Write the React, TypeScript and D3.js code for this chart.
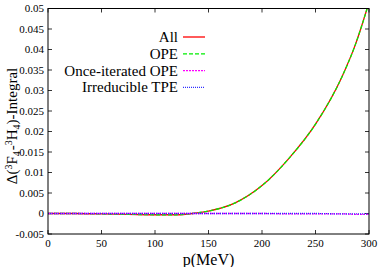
import React from 'react';
import { scaleLinear, line, curveMonotoneX, range } from 'd3';

const P_VALUES = [0, 25, 50, 75, 100, 120, 135, 150, 175, 200, 225, 250, 275, 287, 300];
const ALL = [0, 0, -0.0001, -0.0002, -0.0003, -0.0003, 0, 0.0006, 0.0026, 0.0068, 0.0134, 0.0218, 0.0335, 0.041, 0.0515];
const OPE = [0, 0, -0.0001, -0.0002, -0.0003, -0.0003, 0, 0.0006, 0.0026, 0.0068, 0.0134, 0.0218, 0.0335, 0.041, 0.0515];
const ONCE_ITERATED = [0, 0, 0, 0, 0, 0, 0, 0, 0, 0, -0.0001, -0.0001, -0.0001, -0.0002, -0.0002];
const IRREDUCIBLE = [0, 0, 0, 0, 0, 0, 0, 0, 0, 0, 0, 0, -0.0001, -0.0001, -0.0001];

const SERIES = [
  { label: 'All', values: ALL, color: '#ff0000', dash: null },
  { label: 'OPE', values: OPE, color: '#00ee00', dash: '4,2' },
  { label: 'Once-iterated OPE', values: ONCE_ITERATED, color: '#ff00ff', dash: '2,1' },
  { label: 'Irreducible TPE', values: IRREDUCIBLE, color: '#3030ff', dash: '1,1' },
];

const X_TICKS = [0, 50, 100, 150, 200, 250, 300];
const Y_TICKS = range(0, 12).map(i => -0.005 + i * 0.005);

const width = 382;
const height = 267;
const left = 48;
const right = 369;
const top = 8.5;
const bottom = 234;

const yFmt = (v: number) => {
  if (Math.abs(v) < 1e-9) return '0';
  return String(parseFloat(v.toFixed(3)));
};

export default function App() {
  const x = scaleLinear().domain([0, 300]).range([left, right]);
  const y = scaleLinear().domain([-0.005, 0.05]).range([bottom, top]);
  const font = 'Times New Roman, Liberation Serif, DejaVu Serif, serif';

  const lineGen = (vals: number[]) =>
    line<number>()
      .x((_, i) => x(P_VALUES[i]))
      .y(d => y(d))
      .curve(curveMonotoneX)(vals) || '';

  return (
    <svg width={width} height={height} style={{ position: 'absolute', left: 0, top: 0, background: '#fff' }}>
      <defs>
        <clipPath id="plot-clip">
          <rect x={left} y={top} width={right - left} height={bottom - top} />
        </clipPath>
      </defs>
      <rect x={0} y={0} width={width} height={height} fill="#fff" />

      {/* ticks, mirrored on all sides */}
      {X_TICKS.map(t => (
        <g key={'xt' + t}>
          <line x1={x(t)} x2={x(t)} y1={bottom} y2={bottom - 4} stroke="#000" strokeWidth={0.8} />
          <line x1={x(t)} x2={x(t)} y1={top} y2={top + 4} stroke="#000" strokeWidth={0.8} />
          <text x={x(t)} y={247} textAnchor="middle" fontSize={11} fontFamily={font}>{t}</text>
        </g>
      ))}
      {Y_TICKS.map((t, i) => (
        <g key={'yt' + i}>
          <line x1={left} x2={left + 4} y1={y(t)} y2={y(t)} stroke="#000" strokeWidth={0.8} />
          <line x1={right} x2={right - 4} y1={y(t)} y2={y(t)} stroke="#000" strokeWidth={0.8} />
          <text x={44} y={y(t) + 3.5} textAnchor="end" fontSize={11} fontFamily={font}>{yFmt(t)}</text>
        </g>
      ))}

      <g clipPath="url(#plot-clip)">
        {SERIES.map(s => (
          <path key={s.label} d={lineGen(s.values)} fill="none" stroke={s.color} strokeWidth={1.3}
            strokeDasharray={s.dash || undefined} />
        ))}
      </g>

      <rect x={left} y={top} width={right - left} height={bottom - top} fill="none" stroke="#000" strokeWidth={1} />

      {/* legend */}
      {SERIES.map((s, i) => {
        const ly = 37 + i * 16.8;
        return (
          <g key={'lg' + s.label}>
            <text x={178} y={ly + 5} textAnchor="end" fontSize={15} fontFamily={font}>{s.label}</text>
            <line x1={183} x2={205} y1={ly} y2={ly} stroke={s.color} strokeWidth={1.3}
              strokeDasharray={s.dash || undefined} />
          </g>
        );
      })}

      <text x={(left + right) / 2} y={265} textAnchor="middle" fontSize={16} fontFamily={font}>p(MeV)</text>
      <text transform={`translate(17, 126) rotate(-90)`} textAnchor="middle" fontSize={15} fontFamily={font}>
        <tspan>Δ(</tspan>
        <tspan dy={-5} fontSize={10}>3</tspan>
        <tspan dy={5}>F</tspan>
        <tspan dy={3} fontSize={10}>4</tspan>
        <tspan dy={-3} dx={1}>-</tspan>
        <tspan dy={-5} fontSize={10}>3</tspan>
        <tspan dy={5}>H</tspan>
        <tspan dy={3} fontSize={10}>4</tspan>
        <tspan dy={-3}>)-Integral</tspan>
      </text>
    </svg>
  );
}
